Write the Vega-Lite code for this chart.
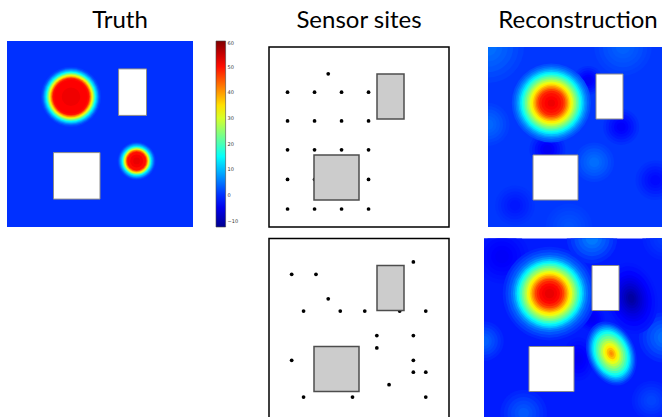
{
  "$schema": "https://vega.github.io/schema/vega-lite/v6.json",
  "padding": {"left": 7, "top": 8, "right": 0, "bottom": 0},
  "background": "white",
  "config": {
    "view": {"stroke": null},
    "title": {"font": "Lato", "fontSize": 24, "fontWeight": "normal", "color": "#000000", "anchor": "middle"}
  },
  "datasets": {
    "base": [
      {"panel": "truth", "v": 0},
      {"panel": "recon1", "v": 0.5},
      {"panel": "recon2", "v": -1.5}
    ],
    "obstacles": [
      {"x0": 0.25, "x1": 0.5, "y0": 0.15, "y1": 0.4},
      {"x0": 0.6, "x1": 0.75, "y0": 0.6, "y1": 0.85}
    ],
    "sensors": [
      {"layout": "grid", "x": 0.329, "y": 0.851},
      {"layout": "grid", "x": 0.103, "y": 0.749}, {"layout": "grid", "x": 0.253, "y": 0.749}, {"layout": "grid", "x": 0.403, "y": 0.749}, {"layout": "grid", "x": 0.553, "y": 0.749},
      {"layout": "grid", "x": 0.103, "y": 0.589}, {"layout": "grid", "x": 0.253, "y": 0.589}, {"layout": "grid", "x": 0.403, "y": 0.589}, {"layout": "grid", "x": 0.553, "y": 0.589},
      {"layout": "grid", "x": 0.103, "y": 0.429}, {"layout": "grid", "x": 0.253, "y": 0.429}, {"layout": "grid", "x": 0.403, "y": 0.429}, {"layout": "grid", "x": 0.553, "y": 0.429},
      {"layout": "grid", "x": 0.103, "y": 0.264}, {"layout": "grid", "x": 0.253, "y": 0.264}, {"layout": "grid", "x": 0.403, "y": 0.264}, {"layout": "grid", "x": 0.553, "y": 0.264},
      {"layout": "grid", "x": 0.103, "y": 0.1}, {"layout": "grid", "x": 0.253, "y": 0.1}, {"layout": "grid", "x": 0.403, "y": 0.1}, {"layout": "grid", "x": 0.553, "y": 0.1},
      {"layout": "scattered", "x": 0.802, "y": 0.87},
      {"layout": "scattered", "x": 0.126, "y": 0.801}, {"layout": "scattered", "x": 0.261, "y": 0.801},
      {"layout": "scattered", "x": 0.329, "y": 0.665},
      {"layout": "scattered", "x": 0.192, "y": 0.597}, {"layout": "scattered", "x": 0.396, "y": 0.597}, {"layout": "scattered", "x": 0.532, "y": 0.597}, {"layout": "scattered", "x": 0.726, "y": 0.597}, {"layout": "scattered", "x": 0.871, "y": 0.597},
      {"layout": "scattered", "x": 0.599, "y": 0.461}, {"layout": "scattered", "x": 0.802, "y": 0.461},
      {"layout": "scattered", "x": 0.599, "y": 0.392},
      {"layout": "scattered", "x": 0.126, "y": 0.323}, {"layout": "scattered", "x": 0.802, "y": 0.323},
      {"layout": "scattered", "x": 0.802, "y": 0.257}, {"layout": "scattered", "x": 0.871, "y": 0.257},
      {"layout": "scattered", "x": 0.667, "y": 0.188},
      {"layout": "scattered", "x": 0.192, "y": 0.119}, {"layout": "scattered", "x": 0.464, "y": 0.119}, {"layout": "scattered", "x": 0.871, "y": 0.119}
    ],
    "rings": [
      {"panel": "truth", "x": 0.344, "y": 0.7, "r": 0.162, "v": 1},
      {"panel": "truth", "x": 0.344, "y": 0.7, "r": 0.155, "v": 3},
      {"panel": "truth", "x": 0.344, "y": 0.7, "r": 0.149, "v": 6},
      {"panel": "truth", "x": 0.344, "y": 0.7, "r": 0.144, "v": 9},
      {"panel": "truth", "x": 0.344, "y": 0.7, "r": 0.139, "v": 12},
      {"panel": "truth", "x": 0.344, "y": 0.7, "r": 0.134, "v": 15},
      {"panel": "truth", "x": 0.344, "y": 0.7, "r": 0.13, "v": 19},
      {"panel": "truth", "x": 0.344, "y": 0.7, "r": 0.126, "v": 23},
      {"panel": "truth", "x": 0.344, "y": 0.7, "r": 0.122, "v": 27},
      {"panel": "truth", "x": 0.344, "y": 0.7, "r": 0.118, "v": 31},
      {"panel": "truth", "x": 0.344, "y": 0.7, "r": 0.114, "v": 35},
      {"panel": "truth", "x": 0.344, "y": 0.7, "r": 0.11, "v": 39},
      {"panel": "truth", "x": 0.344, "y": 0.7, "r": 0.106, "v": 43},
      {"panel": "truth", "x": 0.344, "y": 0.7, "r": 0.102, "v": 47},
      {"panel": "truth", "x": 0.344, "y": 0.7, "r": 0.098, "v": 50},
      {"panel": "truth", "x": 0.344, "y": 0.7, "r": 0.09, "v": 51},
      {"panel": "truth", "x": 0.344, "y": 0.7, "r": 0.05, "v": 52},
      {"panel": "truth", "x": 0.697, "y": 0.355, "r": 0.102, "v": 1},
      {"panel": "truth", "x": 0.697, "y": 0.355, "r": 0.097, "v": 3},
      {"panel": "truth", "x": 0.697, "y": 0.355, "r": 0.092, "v": 6},
      {"panel": "truth", "x": 0.697, "y": 0.355, "r": 0.087, "v": 9},
      {"panel": "truth", "x": 0.697, "y": 0.355, "r": 0.082, "v": 12},
      {"panel": "truth", "x": 0.697, "y": 0.355, "r": 0.078, "v": 15},
      {"panel": "truth", "x": 0.697, "y": 0.355, "r": 0.075, "v": 19},
      {"panel": "truth", "x": 0.697, "y": 0.355, "r": 0.072, "v": 23},
      {"panel": "truth", "x": 0.697, "y": 0.355, "r": 0.069, "v": 27},
      {"panel": "truth", "x": 0.697, "y": 0.355, "r": 0.066, "v": 31},
      {"panel": "truth", "x": 0.697, "y": 0.355, "r": 0.063, "v": 35},
      {"panel": "truth", "x": 0.697, "y": 0.355, "r": 0.06, "v": 39},
      {"panel": "truth", "x": 0.697, "y": 0.355, "r": 0.057, "v": 43},
      {"panel": "truth", "x": 0.697, "y": 0.355, "r": 0.054, "v": 47},
      {"panel": "truth", "x": 0.697, "y": 0.355, "r": 0.05, "v": 50},
      {"panel": "truth", "x": 0.697, "y": 0.355, "r": 0.035, "v": 51.5},
      {"panel": "truth", "x": 0.697, "y": 0.355, "r": 0.018, "v": 52.5},

      {"panel": "recon1", "x": 0.0, "y": 1.0, "r": 0.2, "v": 1.1},
      {"panel": "recon1", "x": 0.0, "y": 1.0, "r": 0.17, "v": 1.7},
      {"panel": "recon1", "x": 0.0, "y": 1.0, "r": 0.14, "v": 2.5},
      {"panel": "recon1", "x": 0.0, "y": 1.0, "r": 0.11, "v": 3.1},
      {"panel": "recon1", "x": 0.0, "y": 1.0, "r": 0.08, "v": 3.7},
      {"panel": "recon1", "x": 0.0, "y": 1.0, "r": 0.05, "v": 4.3},
      {"panel": "recon1", "x": 0.75, "y": 1.0, "r": 0.16, "v": 0.95},
      {"panel": "recon1", "x": 0.75, "y": 1.0, "r": 0.136, "v": 1.4},
      {"panel": "recon1", "x": 0.75, "y": 1.0, "r": 0.112, "v": 2},
      {"panel": "recon1", "x": 0.75, "y": 1.0, "r": 0.088, "v": 2.45},
      {"panel": "recon1", "x": 0.75, "y": 1.0, "r": 0.064, "v": 2.9},
      {"panel": "recon1", "x": 0.75, "y": 1.0, "r": 0.04, "v": 3.35},
      {"panel": "recon1", "x": 0.0, "y": 0.57, "r": 0.12, "v": 1.0},
      {"panel": "recon1", "x": 0.0, "y": 0.57, "r": 0.102, "v": 1.55},
      {"panel": "recon1", "x": 0.0, "y": 0.57, "r": 0.084, "v": 2.25},
      {"panel": "recon1", "x": 0.0, "y": 0.57, "r": 0.066, "v": 2.8},
      {"panel": "recon1", "x": 0.0, "y": 0.57, "r": 0.048, "v": 3.3},
      {"panel": "recon1", "x": 0.0, "y": 0.57, "r": 0.03, "v": 3.8},
      {"panel": "recon1", "x": 0.59, "y": 0.36, "r": 0.11, "v": 1.1},
      {"panel": "recon1", "x": 0.59, "y": 0.36, "r": 0.094, "v": 1.7},
      {"panel": "recon1", "x": 0.59, "y": 0.36, "r": 0.077, "v": 2.5},
      {"panel": "recon1", "x": 0.59, "y": 0.36, "r": 0.06, "v": 3.1},
      {"panel": "recon1", "x": 0.59, "y": 0.36, "r": 0.044, "v": 3.7},
      {"panel": "recon1", "x": 0.59, "y": 0.36, "r": 0.028, "v": 4.3},
      {"panel": "recon1", "x": 0.45, "y": 0.0, "r": 0.13, "v": 0.8},
      {"panel": "recon1", "x": 0.45, "y": 0.0, "r": 0.11, "v": 1.1},
      {"panel": "recon1", "x": 0.45, "y": 0.0, "r": 0.09, "v": 1.5},
      {"panel": "recon1", "x": 0.45, "y": 0.0, "r": 0.07, "v": 1.8},
      {"panel": "recon1", "x": 0.45, "y": 0.0, "r": 0.05, "v": 2.1},
      {"panel": "recon1", "x": 0.45, "y": 0.0, "r": 0.03, "v": 2.4},
      {"panel": "recon1", "x": 0.556, "y": 0.815, "r": 0.08, "v": -0.25},
      {"panel": "recon1", "x": 0.556, "y": 0.815, "r": 0.068, "v": -1},
      {"panel": "recon1", "x": 0.556, "y": 0.815, "r": 0.056, "v": -2},
      {"panel": "recon1", "x": 0.556, "y": 0.815, "r": 0.044, "v": -2.75},
      {"panel": "recon1", "x": 0.556, "y": 0.815, "r": 0.032, "v": -3.5},
      {"panel": "recon1", "x": 0.556, "y": 0.815, "r": 0.02, "v": -4.25},
      {"panel": "recon1", "x": 0.33, "y": 0.43, "r": 0.1, "v": -0.25},
      {"panel": "recon1", "x": 0.33, "y": 0.43, "r": 0.085, "v": -1},
      {"panel": "recon1", "x": 0.33, "y": 0.43, "r": 0.07, "v": -2},
      {"panel": "recon1", "x": 0.33, "y": 0.43, "r": 0.055, "v": -2.75},
      {"panel": "recon1", "x": 0.33, "y": 0.43, "r": 0.04, "v": -3.5},
      {"panel": "recon1", "x": 0.33, "y": 0.43, "r": 0.025, "v": -4.25},
      {"panel": "recon1", "x": 0.74, "y": 0.556, "r": 0.1, "v": -0.2},
      {"panel": "recon1", "x": 0.74, "y": 0.556, "r": 0.085, "v": -0.85},
      {"panel": "recon1", "x": 0.74, "y": 0.556, "r": 0.07, "v": -1.75},
      {"panel": "recon1", "x": 0.74, "y": 0.556, "r": 0.055, "v": -2.4},
      {"panel": "recon1", "x": 0.74, "y": 0.556, "r": 0.04, "v": -3.1},
      {"panel": "recon1", "x": 0.74, "y": 0.556, "r": 0.025, "v": -3.8},
      {"panel": "recon1", "x": 0.93, "y": 0.26, "r": 0.11, "v": -0.05},
      {"panel": "recon1", "x": 0.93, "y": 0.26, "r": 0.094, "v": -0.55},
      {"panel": "recon1", "x": 0.93, "y": 0.26, "r": 0.077, "v": -1.25},
      {"panel": "recon1", "x": 0.93, "y": 0.26, "r": 0.06, "v": -1.8},
      {"panel": "recon1", "x": 0.93, "y": 0.26, "r": 0.044, "v": -2.3},
      {"panel": "recon1", "x": 0.93, "y": 0.26, "r": 0.028, "v": -2.8},
      {"panel": "recon1", "x": 0.15, "y": 0.12, "r": 0.11, "v": 0.13},
      {"panel": "recon1", "x": 0.15, "y": 0.12, "r": 0.094, "v": -0.25},
      {"panel": "recon1", "x": 0.15, "y": 0.12, "r": 0.077, "v": -0.75},
      {"panel": "recon1", "x": 0.15, "y": 0.12, "r": 0.06, "v": -1.1},
      {"panel": "recon1", "x": 0.15, "y": 0.12, "r": 0.044, "v": -1.5},
      {"panel": "recon1", "x": 0.15, "y": 0.12, "r": 0.028, "v": -1.9},
      {"panel": "recon1", "x": 0.352, "y": 0.689, "r": 0.22, "v": 2},
      {"panel": "recon1", "x": 0.352, "y": 0.689, "r": 0.21, "v": 3.5},
      {"panel": "recon1", "x": 0.352, "y": 0.689, "r": 0.2, "v": 5.5},
      {"panel": "recon1", "x": 0.352, "y": 0.689, "r": 0.191, "v": 7.5},
      {"panel": "recon1", "x": 0.352, "y": 0.689, "r": 0.183, "v": 10},
      {"panel": "recon1", "x": 0.352, "y": 0.689, "r": 0.174, "v": 13},
      {"panel": "recon1", "x": 0.352, "y": 0.689, "r": 0.165, "v": 16},
      {"panel": "recon1", "x": 0.352, "y": 0.689, "r": 0.156, "v": 19},
      {"panel": "recon1", "x": 0.352, "y": 0.689, "r": 0.147, "v": 22},
      {"panel": "recon1", "x": 0.352, "y": 0.689, "r": 0.138, "v": 25},
      {"panel": "recon1", "x": 0.352, "y": 0.689, "r": 0.129, "v": 28},
      {"panel": "recon1", "x": 0.352, "y": 0.689, "r": 0.12, "v": 31},
      {"panel": "recon1", "x": 0.352, "y": 0.689, "r": 0.111, "v": 34},
      {"panel": "recon1", "x": 0.352, "y": 0.689, "r": 0.102, "v": 37},
      {"panel": "recon1", "x": 0.352, "y": 0.689, "r": 0.094, "v": 40},
      {"panel": "recon1", "x": 0.352, "y": 0.689, "r": 0.086, "v": 43},
      {"panel": "recon1", "x": 0.352, "y": 0.689, "r": 0.078, "v": 46},
      {"panel": "recon1", "x": 0.352, "y": 0.689, "r": 0.068, "v": 48.5},
      {"panel": "recon1", "x": 0.352, "y": 0.689, "r": 0.055, "v": 50},
      {"panel": "recon1", "x": 0.352, "y": 0.689, "r": 0.038, "v": 51},
      {"panel": "recon1", "x": 0.352, "y": 0.689, "r": 0.02, "v": 52},

      {"panel": "recon2", "x": 0.6, "y": 1.0, "r": 0.14, "v": -0.45},
      {"panel": "recon2", "x": 0.6, "y": 1.0, "r": 0.119, "v": 0.6},
      {"panel": "recon2", "x": 0.6, "y": 1.0, "r": 0.098, "v": 2},
      {"panel": "recon2", "x": 0.6, "y": 1.0, "r": 0.077, "v": 3.05},
      {"panel": "recon2", "x": 0.6, "y": 1.0, "r": 0.056, "v": 4.1},
      {"panel": "recon2", "x": 0.6, "y": 1.0, "r": 0.035, "v": 5.15},
      {"panel": "recon2", "x": 1.0, "y": 1.0, "r": 0.12, "v": -1.1},
      {"panel": "recon2", "x": 1.0, "y": 1.0, "r": 0.1, "v": -0.75},
      {"panel": "recon2", "x": 1.0, "y": 1.0, "r": 0.08, "v": -0.25},
      {"panel": "recon2", "x": 1.0, "y": 1.0, "r": 0.06, "v": 0.1},
      {"panel": "recon2", "x": 1.0, "y": 1.0, "r": 0.04, "v": 0.5},
      {"panel": "recon2", "x": 1.0, "y": 1.0, "r": 0.02, "v": 0.9},
      {"panel": "recon2", "x": 1.0, "y": 0.45, "r": 0.14, "v": -0.6},
      {"panel": "recon2", "x": 1.0, "y": 0.45, "r": 0.119, "v": 0.3},
      {"panel": "recon2", "x": 1.0, "y": 0.45, "r": 0.098, "v": 1.5},
      {"panel": "recon2", "x": 1.0, "y": 0.45, "r": 0.077, "v": 2.4},
      {"panel": "recon2", "x": 1.0, "y": 0.45, "r": 0.056, "v": 3.3},
      {"panel": "recon2", "x": 1.0, "y": 0.45, "r": 0.035, "v": 4.2},
      {"panel": "recon2", "x": 0.0, "y": 0.43, "r": 0.11, "v": -0.75},
      {"panel": "recon2", "x": 0.0, "y": 0.43, "r": 0.094, "v": 0},
      {"panel": "recon2", "x": 0.0, "y": 0.43, "r": 0.077, "v": 1},
      {"panel": "recon2", "x": 0.0, "y": 0.43, "r": 0.06, "v": 1.75},
      {"panel": "recon2", "x": 0.0, "y": 0.43, "r": 0.044, "v": 2.5},
      {"panel": "recon2", "x": 0.0, "y": 0.43, "r": 0.028, "v": 3.25},
      {"panel": "recon2", "x": 0.22, "y": 0.03, "r": 0.13, "v": -0.8},
      {"panel": "recon2", "x": 0.22, "y": 0.03, "r": 0.11, "v": -0.15},
      {"panel": "recon2", "x": 0.22, "y": 0.03, "r": 0.09, "v": 0.75},
      {"panel": "recon2", "x": 0.22, "y": 0.03, "r": 0.07, "v": 1.45},
      {"panel": "recon2", "x": 0.22, "y": 0.03, "r": 0.05, "v": 2.1},
      {"panel": "recon2", "x": 0.22, "y": 0.03, "r": 0.03, "v": 2.8},
      {"panel": "recon2", "x": 0.93, "y": 0.1, "r": 0.11, "v": -1.05},
      {"panel": "recon2", "x": 0.93, "y": 0.1, "r": 0.094, "v": -0.6},
      {"panel": "recon2", "x": 0.93, "y": 0.1, "r": 0.077, "v": 0},
      {"panel": "recon2", "x": 0.93, "y": 0.1, "r": 0.06, "v": 0.45},
      {"panel": "recon2", "x": 0.93, "y": 0.1, "r": 0.044, "v": 0.9},
      {"panel": "recon2", "x": 0.93, "y": 0.1, "r": 0.028, "v": 1.35},
      {"panel": "recon2", "x": 0.1, "y": 0.9, "r": 0.15, "v": -1.9},
      {"panel": "recon2", "x": 0.1, "y": 0.9, "r": 0.128, "v": -2.25},
      {"panel": "recon2", "x": 0.1, "y": 0.9, "r": 0.105, "v": -2.75},
      {"panel": "recon2", "x": 0.1, "y": 0.9, "r": 0.083, "v": -3.1},
      {"panel": "recon2", "x": 0.1, "y": 0.9, "r": 0.06, "v": -3.5},
      {"panel": "recon2", "x": 0.1, "y": 0.9, "r": 0.038, "v": -3.9},
      {"panel": "recon2", "x": 0.6, "y": 0.555, "r": 0.07, "v": -1.95},
      {"panel": "recon2", "x": 0.6, "y": 0.555, "r": 0.06, "v": -2.4},
      {"panel": "recon2", "x": 0.6, "y": 0.555, "r": 0.049, "v": -3},
      {"panel": "recon2", "x": 0.6, "y": 0.555, "r": 0.039, "v": -3.45},
      {"panel": "recon2", "x": 0.6, "y": 0.555, "r": 0.028, "v": -3.9},
      {"panel": "recon2", "x": 0.6, "y": 0.555, "r": 0.018, "v": -4.35},
      {"panel": "recon2", "x": 0.364, "y": 0.694, "r": 0.26, "v": -0.5},
      {"panel": "recon2", "x": 0.364, "y": 0.694, "r": 0.245, "v": 1},
      {"panel": "recon2", "x": 0.364, "y": 0.694, "r": 0.23, "v": 2.5},
      {"panel": "recon2", "x": 0.364, "y": 0.694, "r": 0.215, "v": 4.5},
      {"panel": "recon2", "x": 0.364, "y": 0.694, "r": 0.203, "v": 7},
      {"panel": "recon2", "x": 0.364, "y": 0.694, "r": 0.192, "v": 10},
      {"panel": "recon2", "x": 0.364, "y": 0.694, "r": 0.183, "v": 13},
      {"panel": "recon2", "x": 0.364, "y": 0.694, "r": 0.173, "v": 16},
      {"panel": "recon2", "x": 0.364, "y": 0.694, "r": 0.164, "v": 19},
      {"panel": "recon2", "x": 0.364, "y": 0.694, "r": 0.154, "v": 22},
      {"panel": "recon2", "x": 0.364, "y": 0.694, "r": 0.145, "v": 25},
      {"panel": "recon2", "x": 0.364, "y": 0.694, "r": 0.135, "v": 28},
      {"panel": "recon2", "x": 0.364, "y": 0.694, "r": 0.126, "v": 31},
      {"panel": "recon2", "x": 0.364, "y": 0.694, "r": 0.117, "v": 34},
      {"panel": "recon2", "x": 0.364, "y": 0.694, "r": 0.107, "v": 37},
      {"panel": "recon2", "x": 0.364, "y": 0.694, "r": 0.099, "v": 40},
      {"panel": "recon2", "x": 0.364, "y": 0.694, "r": 0.09, "v": 43},
      {"panel": "recon2", "x": 0.364, "y": 0.694, "r": 0.082, "v": 46},
      {"panel": "recon2", "x": 0.364, "y": 0.694, "r": 0.071, "v": 48.5},
      {"panel": "recon2", "x": 0.364, "y": 0.694, "r": 0.058, "v": 50.5},
      {"panel": "recon2", "x": 0.364, "y": 0.694, "r": 0.042, "v": 51.5},
      {"panel": "recon2", "x": 0.364, "y": 0.694, "r": 0.026, "v": 52.5}
    ],
    "ovals": [
      {"panel": "recon2", "x": 0.818, "y": 0.667, "r": 0.2, "v": -1.8, "tilt": -12},
      {"panel": "recon2", "x": 0.818, "y": 0.667, "r": 0.18, "v": -2.4, "tilt": -12},
      {"panel": "recon2", "x": 0.818, "y": 0.667, "r": 0.155, "v": -3.2, "tilt": -12},
      {"panel": "recon2", "x": 0.818, "y": 0.667, "r": 0.13, "v": -4.2, "tilt": -12},
      {"panel": "recon2", "x": 0.818, "y": 0.667, "r": 0.115, "v": -5, "tilt": -12},
      {"panel": "recon2", "x": 0.818, "y": 0.667, "r": 0.1, "v": -5.8, "tilt": -12},
      {"panel": "recon2", "x": 0.818, "y": 0.667, "r": 0.085, "v": -6.8, "tilt": -12},
      {"panel": "recon2", "x": 0.818, "y": 0.667, "r": 0.07, "v": -7.8, "tilt": -12},
      {"panel": "recon2", "x": 0.818, "y": 0.667, "r": 0.055, "v": -8.9, "tilt": -12},
      {"panel": "recon2", "x": 0.818, "y": 0.667, "r": 0.04, "v": -10, "tilt": -12},
      {"panel": "recon2", "x": 0.818, "y": 0.667, "r": 0.025, "v": -11, "tilt": -12},
      {"panel": "recon2", "x": 0.525, "y": 0.33, "r": 0.12, "v": -1.95, "tilt": 0},
      {"panel": "recon2", "x": 0.525, "y": 0.33, "r": 0.1, "v": -2.4, "tilt": 0},
      {"panel": "recon2", "x": 0.525, "y": 0.33, "r": 0.08, "v": -3, "tilt": 0},
      {"panel": "recon2", "x": 0.525, "y": 0.33, "r": 0.06, "v": -3.45, "tilt": 0},
      {"panel": "recon2", "x": 0.525, "y": 0.33, "r": 0.04, "v": -3.9, "tilt": 0},
      {"panel": "recon2", "x": 0.525, "y": 0.33, "r": 0.025, "v": -4.35, "tilt": 0},
      {"panel": "recon2", "x": 0.707, "y": 0.361, "r": 0.184, "v": 0, "tilt": -22},
      {"panel": "recon2", "x": 0.707, "y": 0.361, "r": 0.173, "v": 2, "tilt": -22},
      {"panel": "recon2", "x": 0.707, "y": 0.361, "r": 0.164, "v": 4.5, "tilt": -22},
      {"panel": "recon2", "x": 0.707, "y": 0.361, "r": 0.155, "v": 7, "tilt": -22},
      {"panel": "recon2", "x": 0.707, "y": 0.361, "r": 0.145, "v": 10, "tilt": -22},
      {"panel": "recon2", "x": 0.707, "y": 0.361, "r": 0.136, "v": 13, "tilt": -22},
      {"panel": "recon2", "x": 0.707, "y": 0.361, "r": 0.126, "v": 16, "tilt": -22},
      {"panel": "recon2", "x": 0.707, "y": 0.361, "r": 0.114, "v": 19, "tilt": -22},
      {"panel": "recon2", "x": 0.707, "y": 0.361, "r": 0.101, "v": 22, "tilt": -22},
      {"panel": "recon2", "x": 0.707, "y": 0.361, "r": 0.087, "v": 25, "tilt": -22},
      {"panel": "recon2", "x": 0.707, "y": 0.361, "r": 0.074, "v": 28, "tilt": -22},
      {"panel": "recon2", "x": 0.707, "y": 0.361, "r": 0.06, "v": 31, "tilt": -22},
      {"panel": "recon2", "x": 0.707, "y": 0.361, "r": 0.046, "v": 34, "tilt": -22},
      {"panel": "recon2", "x": 0.707, "y": 0.361, "r": 0.033, "v": 37, "tilt": -22},
      {"panel": "recon2", "x": 0.707, "y": 0.361, "r": 0.02, "v": 39.5, "tilt": -22},
      {"panel": "recon2", "x": 0.707, "y": 0.361, "r": 0.009, "v": 41, "tilt": -22}
    ]
  },
  "resolve": {"scale": {"size": "independent"}},
  "spacing": 9.5,
  "vconcat": [
    {
      "resolve": {"scale": {"size": "independent"}},
      "spacing": 75,
      "hconcat": [
        {
          "width": 186, "height": 180,
          "title": {"text": "Truth", "dx": 20, "offset": 8},
          "layer": [
            {
              "data": {"name": "base"},
              "transform": [{"filter": "datum.panel === 'truth'"}],
              "mark": "rect",
              "encoding": {
                "x": {"datum": 0, "type": "quantitative", "scale": {"domain": [0, 1], "nice": false}, "axis": null},
                "x2": {"datum": 1},
                "y": {"datum": 0, "type": "quantitative", "scale": {"domain": [0, 0.9677], "nice": false, "zero": false}, "axis": null},
                "y2": {"datum": 1},
                "color": {
                  "field": "v", "type": "quantitative",
                  "scale": {"type": "linear", "domain": [-12.5, -3.44, 14.69, 32.81, 50.94, 60], "range": ["#00008f", "#0000ff", "#00ffff", "#ffff00", "#ff0000", "#800000"], "interpolate": "rgb", "clamp": true},
                  "legend": {
                    "orient": "none", "legendX": 209, "legendY": -6, "direction": "vertical", "title": null,
                    "gradientLength": 186, "gradientThickness": 9.6, "values": [-10, 0, 10, 20, 30, 40, 50, 60],
                    "labelFont": "DejaVu Sans", "labelFontSize": 5, "labelColor": "#333333", "labelOffset": 2,
                    "gradientStrokeColor": "#444444", "gradientStrokeWidth": 0.6, "padding": 0
                  }
                }
              }
            },
            {
              "data": {"name": "rings"},
              "transform": [{"filter": "datum.panel === 'truth'"}],
              "mark": {"type": "point", "shape": "circle", "filled": true, "opacity": 1, "strokeWidth": 0},
              "encoding": {
                "x": {"field": "x", "type": "quantitative"},
                "y": {"field": "y", "type": "quantitative"},
                "size": {"field": "r", "type": "quantitative", "scale": {"type": "pow", "exponent": 2, "domain": [0, 1], "range": [0, 138384]}, "legend": null},
                "color": {"field": "v", "type": "quantitative", "scale": {"type": "linear", "domain": [-12.5, -3.44, 14.69, 32.81, 50.94, 60], "range": ["#00008f", "#0000ff", "#00ffff", "#ffff00", "#ff0000", "#800000"], "interpolate": "rgb", "clamp": true}}
              }
            },
            {
              "data": {"name": "obstacles"},
              "mark": {"type": "rect", "fill": "white", "stroke": "#8c8c8c", "strokeWidth": 1},
              "encoding": {
                "x": {"field": "x0", "type": "quantitative"}, "x2": {"field": "x1"},
                "y": {"field": "y0", "type": "quantitative"}, "y2": {"field": "y1"}
              }
            }
          ]
        },
        {
          "resolve": {"scale": {"size": "independent"}},
          "spacing": 38,
          "hconcat": [
            {
              "width": 180, "height": 180,
              "title": {"text": "Sensor sites", "offset": 14},
              "view": {"stroke": "#000000", "strokeWidth": 1.5},
              "layer": [
                {
                  "data": {"name": "sensors"},
                  "transform": [{"filter": "datum.layout === 'grid'"}],
                  "mark": {"type": "point", "shape": "circle", "filled": true, "color": "#000000", "size": 14, "opacity": 1},
                  "encoding": {
                    "x": {"field": "x", "type": "quantitative", "scale": {"domain": [0, 1], "nice": false}, "axis": null},
                    "y": {"field": "y", "type": "quantitative", "scale": {"domain": [0, 1], "nice": false}, "axis": null}
                  }
                },
                {
                  "data": {"name": "obstacles"},
                  "mark": {"type": "rect", "fill": "#cccccc", "stroke": "#4d4d4d", "strokeWidth": 1.5},
                  "encoding": {
                    "x": {"field": "x0", "type": "quantitative"}, "x2": {"field": "x1"},
                    "y": {"field": "y0", "type": "quantitative"}, "y2": {"field": "y1"}
                  }
                }
              ]
            },
            {
              "width": 180, "height": 180,
              "title": {"text": "Reconstruction", "offset": 14},
              "layer": [
                {
                  "data": {"name": "base"},
                  "transform": [{"filter": "datum.panel === 'recon1'"}],
                  "mark": "rect",
                  "encoding": {
                    "x": {"datum": 0, "type": "quantitative", "scale": {"domain": [0, 1], "nice": false}, "axis": null},
                    "x2": {"datum": 1},
                    "y": {"datum": 0, "type": "quantitative", "scale": {"domain": [0, 1], "nice": false}, "axis": null},
                    "y2": {"datum": 1},
                    "color": {"field": "v", "type": "quantitative", "scale": {"type": "linear", "domain": [-12.5, -3.44, 14.69, 32.81, 50.94, 60], "range": ["#00008f", "#0000ff", "#00ffff", "#ffff00", "#ff0000", "#800000"], "interpolate": "rgb", "clamp": true}}
                  }
                },
                {
                  "data": {"name": "rings"},
                  "transform": [{"filter": "datum.panel === 'recon1'"}],
                  "mark": {"type": "point", "shape": "circle", "filled": true, "opacity": 1, "strokeWidth": 0, "clip": true},
                  "encoding": {
                    "x": {"field": "x", "type": "quantitative"},
                    "y": {"field": "y", "type": "quantitative"},
                    "size": {"field": "r", "type": "quantitative", "scale": {"type": "pow", "exponent": 2, "domain": [0, 1], "range": [0, 129600]}, "legend": null},
                    "color": {"field": "v", "type": "quantitative", "scale": {"type": "linear", "domain": [-12.5, -3.44, 14.69, 32.81, 50.94, 60], "range": ["#00008f", "#0000ff", "#00ffff", "#ffff00", "#ff0000", "#800000"], "interpolate": "rgb", "clamp": true}}
                  }
                },
                {
                  "data": {"name": "obstacles"},
                  "mark": {"type": "rect", "fill": "white", "stroke": "#8c8c8c", "strokeWidth": 1},
                  "encoding": {
                    "x": {"field": "x0", "type": "quantitative"}, "x2": {"field": "x1"},
                    "y": {"field": "y0", "type": "quantitative"}, "y2": {"field": "y1"}
                  }
                }
              ]
            }
          ]
        }
      ]
    },
    {
      "resolve": {"scale": {"size": "independent"}},
      "spacing": 75,
      "hconcat": [
        {
          "width": 186, "height": 10,
          "view": {"stroke": null, "fill": "white"},
          "data": {"values": []},
          "mark": {"type": "point", "opacity": 0},
          "encoding": {}
        },
        {
          "resolve": {"scale": {"size": "independent"}},
          "spacing": 34,
          "hconcat": [
            {
              "width": 180, "height": 180,
              "view": {"stroke": "#000000", "strokeWidth": 1.5},
              "layer": [
                {
                  "data": {"name": "sensors"},
                  "transform": [{"filter": "datum.layout === 'scattered'"}],
                  "mark": {"type": "point", "shape": "circle", "filled": true, "color": "#000000", "size": 14, "opacity": 1},
                  "encoding": {
                    "x": {"field": "x", "type": "quantitative", "scale": {"domain": [0, 1], "nice": false}, "axis": null},
                    "y": {"field": "y", "type": "quantitative", "scale": {"domain": [0, 1], "nice": false}, "axis": null}
                  }
                },
                {
                  "data": {"name": "obstacles"},
                  "mark": {"type": "rect", "fill": "#cccccc", "stroke": "#4d4d4d", "strokeWidth": 1.5},
                  "encoding": {
                    "x": {"field": "x0", "type": "quantitative"}, "x2": {"field": "x1"},
                    "y": {"field": "y0", "type": "quantitative"}, "y2": {"field": "y1"}
                  }
                }
              ]
            },
            {
              "width": 180, "height": 180,
              "layer": [
                {
                  "data": {"name": "base"},
                  "transform": [{"filter": "datum.panel === 'recon2'"}],
                  "mark": "rect",
                  "encoding": {
                    "x": {"datum": 0, "type": "quantitative", "scale": {"domain": [0, 1], "nice": false}, "axis": null},
                    "x2": {"datum": 1},
                    "y": {"datum": 0, "type": "quantitative", "scale": {"domain": [0, 1], "nice": false}, "axis": null},
                    "y2": {"datum": 1},
                    "color": {"field": "v", "type": "quantitative", "scale": {"type": "linear", "domain": [-12.5, -3.44, 14.69, 32.81, 50.94, 60], "range": ["#00008f", "#0000ff", "#00ffff", "#ffff00", "#ff0000", "#800000"], "interpolate": "rgb", "clamp": true}}
                  }
                },
                {
                  "data": {"name": "rings"},
                  "transform": [{"filter": "datum.panel === 'recon2'"}],
                  "mark": {"type": "point", "shape": "circle", "filled": true, "opacity": 1, "strokeWidth": 0, "clip": true},
                  "encoding": {
                    "x": {"field": "x", "type": "quantitative"},
                    "y": {"field": "y", "type": "quantitative"},
                    "size": {"field": "r", "type": "quantitative", "scale": {"type": "pow", "exponent": 2, "domain": [0, 1], "range": [0, 129600]}, "legend": null},
                    "color": {"field": "v", "type": "quantitative", "scale": {"type": "linear", "domain": [-12.5, -3.44, 14.69, 32.81, 50.94, 60], "range": ["#00008f", "#0000ff", "#00ffff", "#ffff00", "#ff0000", "#800000"], "interpolate": "rgb", "clamp": true}}
                  }
                },
                {
                  "data": {"name": "ovals"},
                  "transform": [{"filter": "datum.panel === 'recon2'"}],
                  "mark": {"type": "point", "shape": "M0,-1A0.72,1,0,1,1,0,1A0.72,1,0,1,1,0,-1Z", "filled": true, "opacity": 1, "strokeWidth": 0, "clip": true},
                  "encoding": {
                    "x": {"field": "x", "type": "quantitative"},
                    "y": {"field": "y", "type": "quantitative"},
                    "size": {"field": "r", "type": "quantitative", "scale": {"type": "pow", "exponent": 2, "domain": [0, 1], "range": [0, 129600]}, "legend": null},
                    "angle": {"field": "tilt", "type": "quantitative", "scale": null},
                    "color": {"field": "v", "type": "quantitative", "scale": {"type": "linear", "domain": [-12.5, -3.44, 14.69, 32.81, 50.94, 60], "range": ["#00008f", "#0000ff", "#00ffff", "#ffff00", "#ff0000", "#800000"], "interpolate": "rgb", "clamp": true}}
                  }
                },
                {
                  "data": {"name": "obstacles"},
                  "mark": {"type": "rect", "fill": "white", "stroke": "#8c8c8c", "strokeWidth": 1},
                  "encoding": {
                    "x": {"field": "x0", "type": "quantitative"}, "x2": {"field": "x1"},
                    "y": {"field": "y0", "type": "quantitative"}, "y2": {"field": "y1"}
                  }
                }
              ]
            }
          ]
        }
      ]
    }
  ]
}
